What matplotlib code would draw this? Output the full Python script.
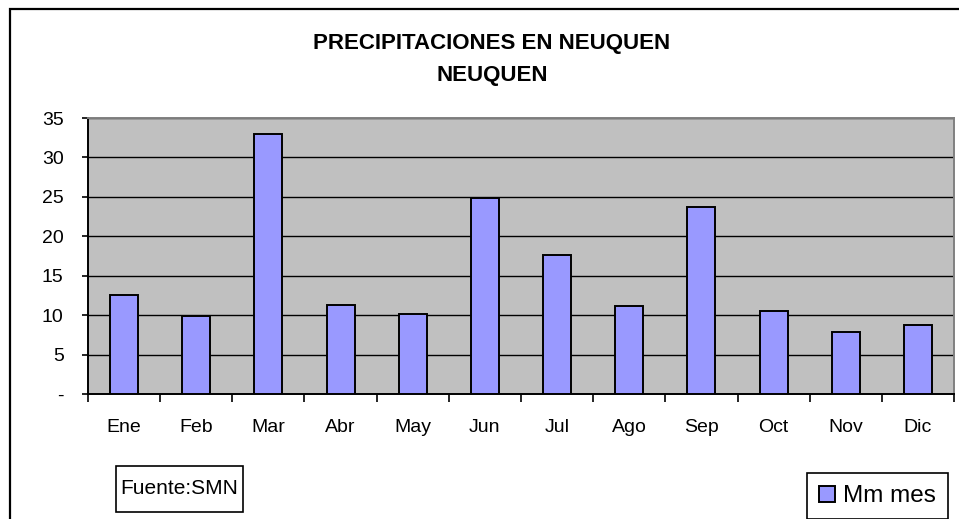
import matplotlib.pyplot as plt
from matplotlib.patches import Rectangle

plt.rcParams['font.family'] = ['Liberation Sans', 'DejaVu Sans']

meses = ["Ene", "Feb", "Mar", "Abr", "May", "Jun", "Jul", "Ago", "Sep", "Oct", "Nov", "Dic"]
mm_mes = [12.6, 9.9, 33.0, 11.3, 10.1, 24.9, 17.6, 11.1, 23.7, 10.5, 7.8, 8.8]
y_ticks = [0, 5, 10, 15, 20, 25, 30, 35]
y_labels = ["-", "5", "10", "15", "20", "25", "30", "35"]

W, H = 959, 519
fig = plt.figure(figsize=(W / 100, H / 100), dpi=100)
fig.patch.set_facecolor("white")

# outer chart frame (right and bottom edges fall outside the picture)
fig.patches.append(Rectangle((10 / W, -0.05), 1.1, 1 - 9 / H + 0.05, transform=fig.transFigure,
                             fill=False, edgecolor="black", linewidth=1.6))

ax = fig.add_axes([88 / W, (H - 394) / H, (954 - 88) / W, (394 - 118) / H])
ax.set_facecolor("#C0C0C0")

x = list(range(len(meses)))
bars = ax.bar(x, mm_mes, width=0.39, color="#9999FF", edgecolor="black", linewidth=1.4,
              label="Mm mes", zorder=3)

ax.set_xlim(-0.5, len(meses) - 0.5)
ax.set_ylim(0, 35)
ax.set_yticks(y_ticks)
ax.set_yticklabels(y_labels)
ax.yaxis.grid(True, color="black", linewidth=1.0, zorder=1)
ax.set_axisbelow(True)

ax.set_xticks(x)
ax.set_xticklabels(meses)
ax.set_xticks([i - 0.5 for i in range(len(meses) + 1)], minor=True)
ax.tick_params(axis="x", which="major", length=0, pad=18, labelsize=14)
ax.tick_params(axis="x", which="minor", length=5.5, width=1.2, direction="out")
ax.tick_params(axis="y", length=4.5, width=1.2, direction="out", pad=13, labelsize=14)

ax.spines["left"].set_color("black")
ax.spines["bottom"].set_color("black")
ax.spines["left"].set_linewidth(1.4)
ax.spines["bottom"].set_linewidth(1.4)
ax.spines["top"].set_color("#808080")
ax.spines["right"].set_color("#808080")
ax.spines["top"].set_linewidth(1.4)
ax.spines["right"].set_linewidth(1.4)

fig.text(492 / W, 1 - 43 / H, "PRECIPITACIONES EN NEUQUEN", ha="center", va="center",
         fontsize=16, fontweight="bold")
fig.text(492 / W, 1 - 75 / H, "NEUQUEN", ha="center", va="center",
         fontsize=16, fontweight="bold")

# source box
fig.patches.append(Rectangle((116 / W, 1 - 512 / H), 127 / W, 46 / H, transform=fig.transFigure,
                             fill=False, edgecolor="black", linewidth=1.2))
fig.text(179.5 / W, 1 - 489 / H, "Fuente:SMN", ha="center", va="center", fontsize=15)

leg = fig.legend(handles=[bars], labels=["Mm mes"], loc="upper left",
                 bbox_to_anchor=(807 / W, 1 - 473 / H), fontsize=17.5, frameon=True,
                 fancybox=False, edgecolor="black", framealpha=1, borderpad=0.5,
                 handlelength=0.65, handleheight=0.65, handletextpad=0.35, borderaxespad=0)
leg.get_frame().set_linewidth(1.2)

fig.savefig("out.png", dpi=100)
